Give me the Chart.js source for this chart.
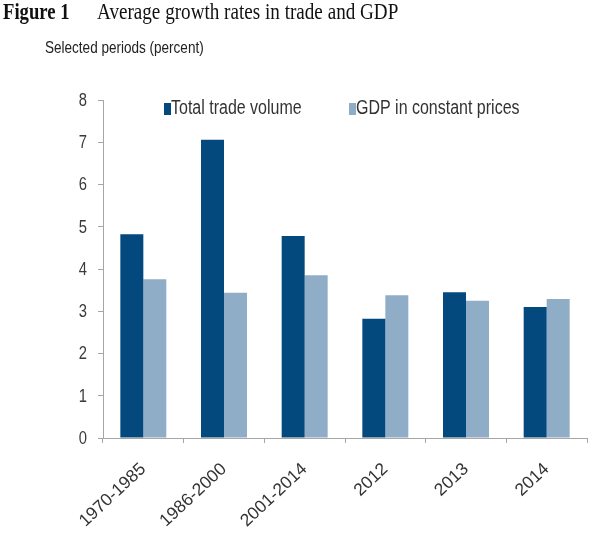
<!DOCTYPE html>
<html>
<head>
<meta charset="utf-8">
<script src="https://cdn.jsdelivr.net/npm/chart.js@4/dist/chart.umd.min.js"></script>
<style>
  html, body { margin: 0; padding: 0; background: #ffffff; }
  #wrap { position: relative; width: 596px; height: 534px; overflow: hidden; }
  #chart { position: absolute; left: 0; top: 0; }
  .hdr { position: absolute; white-space: nowrap; transform-origin: 0 0; }
  #fig { left: 3px; top: -1px; font: bold 22.5px "Liberation Serif", "Times New Roman", serif; color: #111; transform: scaleX(0.83); }
  #ttl { left: 97px; top: -1px; font: 22.5px "Liberation Serif", "Times New Roman", serif; color: #111; transform: scaleX(0.85); }
  #sub { left: 45px; top: 38px; font: 16.5px "Liberation Sans", Arial, sans-serif; color: #222; transform: scaleX(0.82); }
</style>
</head>
<body>
<div id="wrap">
  <canvas id="chart" width="596" height="534"></canvas>
  <div class="hdr" id="fig">Figure 1</div>
  <div class="hdr" id="ttl">Average growth rates in trade and GDP</div>
  <div class="hdr" id="sub">Selected periods (percent)</div>
</div>
<script>
// Periods shown along the x axis
const categories = ['1970-1985', '1986-2000', '2001-2014', '2012', '2013', '2014'];
// Average annual growth, percent
const tradeVolume = [4.82, 7.06, 4.78, 2.82, 3.45, 3.10];
const gdpConstant = [3.76, 3.44, 3.85, 3.38, 3.25, 3.29];
const seriesNames = ['Total trade volume', 'GDP in constant prices'];
const yTicks = [0, 1, 2, 3, 4, 5, 6, 7, 8];

const SANS = '"Liberation Sans", Arial, sans-serif';
const AXIS = '#a6a6a6';
const NARROW_X = 0.82; // horizontal squeeze giving a narrow sans look

// Narrow y-axis numbers, placed at the scale's own tick positions
const narrowYLabels = {
  id: 'narrowYLabels',
  afterDraw(chart) {
    const ctx = chart.ctx;
    const scale = chart.scales.y;
    const right = scale.right - 5 - 11;
    ctx.save();
    ctx.font = '18px ' + SANS;
    ctx.fillStyle = '#3a3a3a';
    ctx.textAlign = 'right';
    ctx.textBaseline = 'middle';
    scale.ticks.forEach(t => {
      const y = scale.getPixelForValue(t.value);
      ctx.save();
      ctx.translate(right, y + 1);
      ctx.scale(NARROW_X, 1);
      ctx.fillText(String(t.value), 0, 0);
      ctx.restore();
    });
    ctx.restore();
  }
};

// Legend drawn inside the plot area, one entry per dataset
const insideLegend = {
  id: 'insideLegend',
  afterDraw(chart) {
    const ctx = chart.ctx;
    const starts = [164, 349];
    ctx.save();
    ctx.font = '19.5px ' + SANS;
    ctx.textBaseline = 'middle';
    chart.data.datasets.forEach((ds, i) => {
      const x = starts[i];
      const y = 109;
      ctx.fillStyle = ds.backgroundColor;
      ctx.fillRect(x, y - 6, 7, 12);
      ctx.fillStyle = '#333';
      ctx.textAlign = 'left';
      ctx.save();
      ctx.translate(x + 7, y);
      ctx.scale(NARROW_X, 1);
      ctx.fillText(ds.label, 0, 0);
      ctx.restore();
    });
    ctx.restore();
  }
};

new Chart(document.getElementById('chart'), {
  type: 'bar',
  data: {
    labels: categories,
    datasets: [
      { label: seriesNames[0], data: tradeVolume, backgroundColor: '#03497e' },
      { label: seriesNames[1], data: gdpConstant, backgroundColor: '#8fadc6' }
    ]
  },
  options: {
    responsive: false,
    animation: false,
    layout: { padding: { top: 100, right: 9, left: 0, bottom: 0 } },
    datasets: { bar: { categoryPercentage: 0.57, barPercentage: 1.0 } },
    plugins: {
      legend: { display: false },
      title: { display: false },
      tooltip: { enabled: false }
    },
    scales: {
      x: {
        afterFit(scale) { scale.height = 96; },
        border: { display: true, color: AXIS, width: 1 },
        grid: { display: true, drawOnChartArea: false, drawTicks: true, tickLength: 5, color: AXIS, offset: true },
        ticks: {
          minRotation: 43, maxRotation: 43, autoSkip: false, padding: 16,
          color: '#333', font: { family: SANS, size: 17.5 }
        }
      },
      y: {
        min: 0, max: 8,
        afterFit(scale) { scale.width = 103; },
        afterBuildTicks(scale) { scale.ticks = yTicks.map(v => ({ value: v })); },
        border: { display: true, color: AXIS, width: 1 },
        grid: { display: true, drawOnChartArea: false, drawTicks: true, tickLength: 5, color: AXIS },
        ticks: { display: false }
      }
    }
  },
  plugins: [narrowYLabels, insideLegend]
});
</script>
</body>
</html>
